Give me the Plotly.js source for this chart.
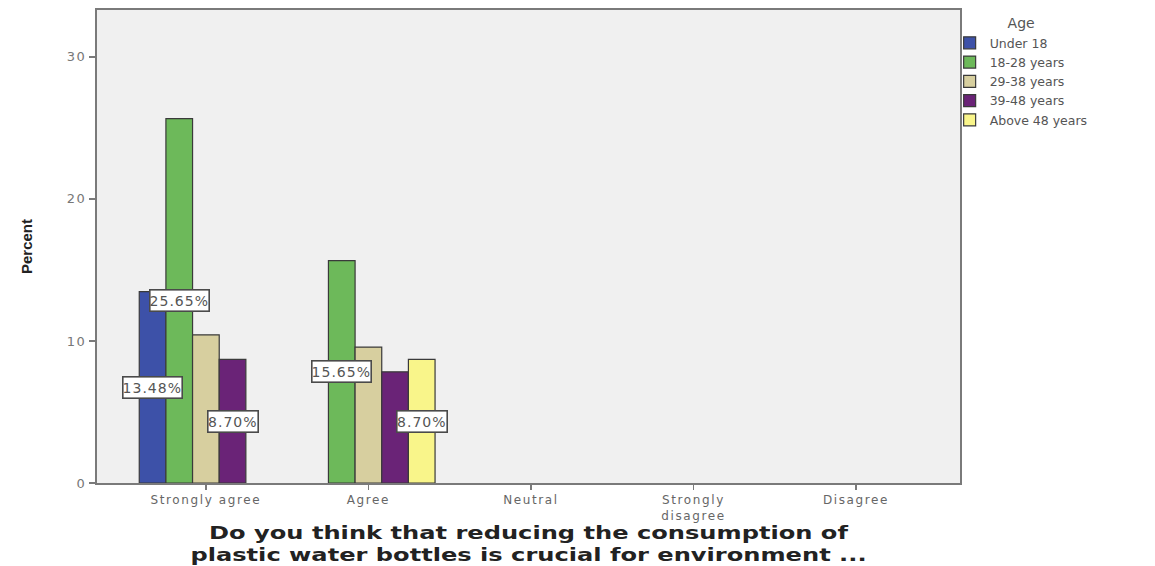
<!DOCTYPE html>
<html>
<head>
<meta charset="utf-8">
<script src="https://cdn.plot.ly/plotly-3.0.1.min.js"></script>
<style>
html,body{margin:0;padding:0;background:#fff;}
#chart{width:1155px;height:566px;}
#chart .xtick text{letter-spacing:1.6px;}
#chart .ytick text{letter-spacing:1.5px;}
#chart .annotation-text{letter-spacing:1px;}
#chart .g-xtitle text{transform:scaleX(1.42);transform-box:fill-box;transform-origin:center;}
</style>
</head>
<body>
<div id="chart"></div>
<script>
const categories = ["Strongly agree", "Agree", "Neutral", "Strongly disagree", "Disagree"];
const categoryLabels = ["Strongly agree", "Agree", "Neutral", "Strongly<br>disagree", "Disagree"];
const seriesNames = ["Under 18", "18-28 years", "29-38 years", "39-48 years", "Above 48 years"];
const under18 = [13.48, null, null, null, null];
const age18to28 = [25.65, 15.65, null, null, null];
const age29to38 = [10.43, 9.57, null, null, null];
const age39to48 = [8.70, 7.83, null, null, null];
const above48 = [null, 8.70, null, null, null];
const seriesValues = [under18, age18to28, age29to38, age39to48, above48];
const seriesColors = ["#3d51a8", "#6db95a", "#d7cf9f", "#6a2377", "#f9f58a"];
// which bars carry a value label (series index, category index)
const labelled = [[0, 0], [1, 0], [3, 0], [1, 1], [4, 1]];

const bargap = 0.18;
const nSeries = seriesValues.length;
const slot = (1 - bargap) / nSeries;

const traces = seriesValues.map((vals, i) => ({
  type: "bar",
  name: seriesNames[i],
  x: categories,
  y: vals,
  marker: {color: seriesColors[i], line: {color: "#3a3a3a", width: 1.2}},
  hoverinfo: "none"
}));

const annotations = labelled.map(([s, c]) => ({
  xref: "x", yref: "y",
  x: c - (1 - bargap) / 2 + (s + 0.5) * slot,
  y: seriesValues[s][c] / 2,
  text: seriesValues[s][c].toFixed(2) + "%",
  showarrow: false,
  bgcolor: "#ffffff",
  bordercolor: "#4a4a4a",
  borderwidth: 1.6,
  borderpad: 2,
  font: {family: "DejaVu Sans", size: 14, color: "#555"}
}));

const layout = {
  width: 1155, height: 566,
  margin: {l: 97, r: 195, t: 10, b: 83},
  paper_bgcolor: "#ffffff",
  plot_bgcolor: "#f0f0f0",
  barmode: "group",
  bargap: bargap,
  bargroupgap: 0,
  showlegend: true,
  legend: {
    x: 0.988, xanchor: "left", y: 1.0, yanchor: "top",
    bgcolor: "rgba(0,0,0,0)",
    title: {text: "Age", side: "top center", font: {family: "DejaVu Sans", size: 14, color: "#555"}},
    font: {family: "DejaVu Sans", size: 12.5, color: "#555"},
    tracegroupgap: 0
  },
  xaxis: {
    type: "category",
    categoryorder: "array", categoryarray: categories,
    tickmode: "array", tickvals: categories, ticktext: categoryLabels,
    range: [-0.67, 4.64],
    showline: true, linecolor: "#7a7a7a", linewidth: 2, mirror: true,
    ticks: "outside", ticklen: 5, tickcolor: "#7a7a7a", tickwidth: 1.5,
    tickfont: {family: "DejaVu Sans", size: 12, color: "#666"},
    showgrid: false, zeroline: false,
    title: {
      text: "Do you think that reducing the consumption of<br>plastic water bottles is crucial for environment ...",
      font: {family: "DejaVu Sans", size: 17, color: "#222", weight: "bold"},
      standoff: 1
    }
  },
  yaxis: {
    range: [0, 33.3],
    tickvals: [0, 10, 20, 30],
    showline: true, linecolor: "#7a7a7a", linewidth: 2, mirror: true,
    ticks: "outside", ticklen: 6, tickcolor: "#7a7a7a", tickwidth: 1.5,
    tickfont: {family: "DejaVu Sans", size: 13, color: "#777"},
    showgrid: false, zeroline: false,
    title: {
      text: "Percent",
      font: {family: "Liberation Sans Narrow, Liberation Sans", size: 15, color: "#222", weight: "bold"},
      standoff: 34
    }
  },
  annotations: annotations
};

Plotly.newPlot("chart", traces, layout, {displayModeBar: false, staticPlot: true});
</script>
</body>
</html>
